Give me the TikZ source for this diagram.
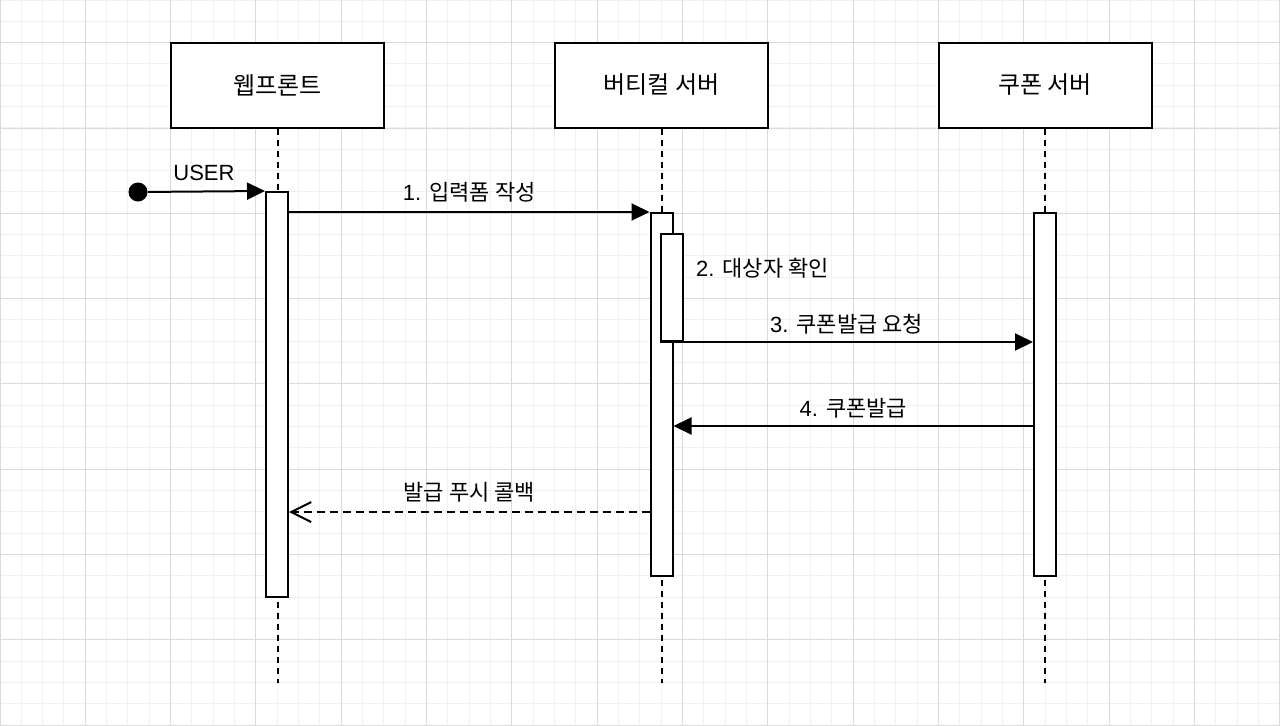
\documentclass[tikz,border=0pt]{standalone}
\usepackage{fontspec}
\setmainfont{Liberation Sans}
\newfontfamily\kr{Noto Sans CJK KR}
\usetikzlibrary{arrows.meta,calc,positioning}
\tikzset{%
	actor/.style     = {draw, line width=1pt, fill=white, rectangle, minimum width=106.5pt, minimum height=42.5pt, text centered, font=\fontsize{12}{14}\selectfont},
	bar/.style       = {draw, line width=1pt, fill=white, rectangle, minimum width=11pt, inner sep=0pt},
	lifeline/.style  = {line width=1pt, dash pattern=on 3pt off 2.5pt},
	msg/.style       = {line width=1pt, -{Triangle[length=9pt,width=8.5pt]}},
	reply/.style     = {line width=1pt, dash pattern=on 4pt off 2.5pt, -{Straight Barb[length=10pt,width=10pt]}},
	lbl/.style       = {font=\fontsize{11}{13}\selectfont},
	minorgrid/.style = {draw=black!6, line width=0.5pt},
	majorgrid/.style = {draw=black!14, line width=0.5pt},
}

\begin{document}
\begin{tikzpicture}[x=0.5pt,y=-0.5pt]
	\useasboundingbox (0,0) rectangle (1280,725);
	\fill[white] (0,0) rectangle (1280,725);
	% grid, kept on whole pixels
	\foreach \i in {0,...,60} {
		\pgfmathsetmacro{\gx}{floor(\i*21.333)+0.5}
		\draw[minorgrid] (\gx,0) -- (\gx,725);
	}
	\foreach \i in {0,...,34} {
		\pgfmathsetmacro{\gy}{floor(\i*21.333)+0.5}
		\draw[minorgrid] (0,\gy) -- (1280,\gy);
	}
	\foreach \i in {0,...,15} {
		\pgfmathsetmacro{\gx}{floor(\i*85.333)+0.5}
		\draw[majorgrid] (\gx,0) -- (\gx,725);
	}
	\foreach \i in {0,...,8} {
		\pgfmathsetmacro{\gy}{floor(42.667+\i*85.333)+0.5}
		\draw[majorgrid] (0,\gy) -- (1280,\gy);
	}
	
	% participants
	\node[actor] (web) at (277.5,85) {\kr 웹프론트};
	\node[actor] (vert) at (661.5,85) {\kr 버티컬 서버};
	\node[actor] (coupon) at (1045,85) {\kr 쿠폰 서버};
	
	\coordinate (bottom) at (0,683);
	\draw[lifeline] (web.south) -- (web.south |- bottom);
	\draw[lifeline] (vert.south) -- (vert.south |- bottom);
	\draw[lifeline] (coupon.south) -- (coupon.south |- bottom);
	
	% activations
	\node[bar, minimum height=202.5pt] (webbar) at (277,394.5) {};
	\node[bar, minimum height=181.5pt] (vertbar) at (661.5,394.5) {};
	\node[bar, minimum height=53.5pt] (checkbar) at (672,287.5) {};
	\node[bar, minimum height=181.5pt] (couponbar) at (1045,394.5) {};
	
	% messages
	\node[circle, fill, inner sep=0pt, minimum size=9.5pt] (user) at (138,192) {};
	\node[lbl] (lblUser) at (204,173) {USER};
	\draw[msg] (user) -- (webbar.north west);
	
	\draw[msg] (webbar.east |- vertbar.north) -- (vertbar.north west)
		node[lbl, midway, yshift=10pt] (lbl1) {1. \kr 입력폼 작성};
	\node[lbl, anchor=west] (lbl2) at (689,268) {2. \kr 대상자 확인};
	\draw[msg] (checkbar.south west) -- (couponbar.west |- checkbar.south)
		node[lbl, midway, yshift=9pt] (lbl3) {3. \kr 쿠폰발급 요청};
	
	\coordinate (row4) at (0,426);
	\draw[msg] (couponbar.west |- row4) -- (vertbar.east |- row4)
		node[lbl, midway, yshift=9pt] (lbl4) {4. \kr 쿠폰발급};
	
	\coordinate (row5) at (0,512);
	\draw[reply] (vertbar.west |- row5) -- (webbar.east |- row5)
		node[lbl, midway, yshift=10pt] (lbl5) {\kr 발급 푸시 콜백};
\end{tikzpicture}
\end{document}
